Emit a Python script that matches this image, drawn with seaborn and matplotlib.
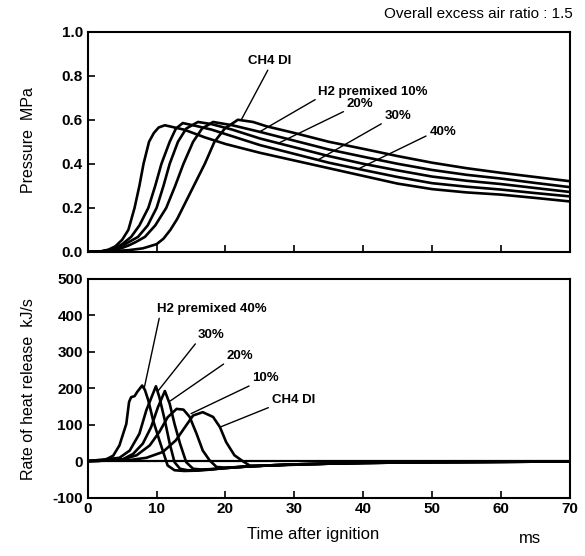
import numpy as np
import pandas as pd
import matplotlib
matplotlib.use('Agg')
import matplotlib.pyplot as plt
import seaborn as sns

# case names (same order as the labels on the chart)
cases = ['CH4 DI', 'H2 premixed 10%', '20%', '30%', '40%']

# cylinder pressure (MPa)
p_time_ch4 = [0, 3, 6, 8, 10, 11, 12, 13, 13.8, 15.4, 17.0, 18.4, 19.9, 21.8,
              24, 26, 30, 35, 40, 45, 50, 55, 60, 65, 70]
p_ch4 = [0, 0.002, 0.008, 0.016, 0.035, 0.06, 0.1, 0.15, 0.2, 0.3, 0.4, 0.5, 0.56, 0.60,
         0.59, 0.57, 0.54, 0.50, 0.468, 0.435, 0.405, 0.38, 0.359, 0.34, 0.321]

p_time_10 = [0, 2, 3, 4, 5, 6, 7, 8.3, 9.8, 11.4, 12.7, 13.9, 15.3, 16.6, 18.2,
             21, 25, 30, 35, 40, 45, 50, 55, 60, 65, 70]
p_10 = [0, 0.002, 0.005, 0.01, 0.018, 0.03, 0.045, 0.068, 0.12, 0.2, 0.3, 0.4, 0.5, 0.56, 0.59,
        0.575, 0.545, 0.505, 0.465, 0.432, 0.40, 0.372, 0.35, 0.333, 0.313, 0.294]

p_time_20 = [0, 2, 3, 4, 5, 6, 7.3, 8.7, 10.0, 11.0, 11.9, 13.1, 14.3, 16.0,
             18, 21, 25, 30, 35, 40, 45, 50, 55, 60, 65, 70]
p_20 = [0, 0.002, 0.006, 0.014, 0.027, 0.045, 0.068, 0.12, 0.2, 0.3, 0.4, 0.5, 0.56, 0.59,
        0.58, 0.555, 0.515, 0.475, 0.435, 0.40, 0.37, 0.342, 0.323, 0.308, 0.29, 0.272]

p_time_30 = [0, 2, 3, 4, 5, 6.3, 7.5, 8.8, 9.8, 10.7, 11.9, 12.8, 13.8,
             16, 18, 21, 25, 30, 35, 40, 45, 50, 55, 60, 65, 70]
p_30 = [0, 0.002, 0.008, 0.018, 0.035, 0.068, 0.12, 0.2, 0.3, 0.4, 0.5, 0.56, 0.585,
        0.57, 0.555, 0.525, 0.485, 0.445, 0.405, 0.372, 0.34, 0.312, 0.296, 0.283, 0.267, 0.252]

p_time_40 = [0, 2, 3, 4, 5, 5.9, 6.8, 7.5, 8.1, 8.9, 9.6, 10.3, 11.2,
             14, 17, 20, 25, 30, 35, 40, 45, 50, 55, 60, 65, 70]
p_40 = [0, 0.003, 0.01, 0.025, 0.055, 0.1, 0.2, 0.3, 0.4, 0.5, 0.54, 0.565, 0.575,
        0.555, 0.52, 0.49, 0.45, 0.415, 0.38, 0.345, 0.31, 0.285, 0.27, 0.26, 0.245, 0.229]

# rate of heat release (kJ/s)
q_time_ch4 = [0, 6.1, 8.5, 10.9, 12.8, 14.3, 15.3, 16.7, 18.2, 19.2, 20.1, 21.3, 22.5,
              23.5, 25, 27, 30, 35, 40, 50, 60, 70]
q_ch4 = [0, 3, 9, 25, 57, 98, 125, 134, 121, 93, 52, 16, 0,
         -12, -13, -12, -10, -7, -5, -3, -2, -1]

q_time_10 = [0, 5.1, 7.1, 9.0, 10.4, 11.6, 12.9, 13.9, 14.8, 15.8, 16.7, 17.7, 18.7,
             20, 22, 24, 26, 30, 35, 40, 50, 60, 70]
q_10 = [0, 5, 16, 43, 80, 120, 143, 141, 121, 75, 29, 2, -16,
        -18, -16, -14, -12, -9, -7, -5, -3, -2, -1]

q_time_20 = [0, 5.1, 6.6, 8.0, 9.2, 10.2, 11.2, 11.9, 12.6, 13.4, 14.3, 15.3, 16.5,
             18, 20, 23, 26, 30, 35, 40, 50, 60, 70]
q_20 = [0, 5, 20, 48, 93, 148, 192, 157, 102, 48, -3, -21, -23,
        -22, -19, -15, -12, -9, -7, -5, -3, -2, -1]

q_time_30 = [0, 4.6, 6.1, 7.5, 8.5, 9.9, 10.4, 11.2, 11.9, 12.6, 13.4, 14.5,
             16, 18, 20, 23, 26, 30, 35, 40, 50, 60, 70]
q_30 = [0, 9, 29, 75, 139, 205, 175, 111, 48, -3, -21, -25,
        -25, -22, -19, -15, -12, -9, -7, -5, -3, -2, -1]

q_time_40 = [0, 1.5, 2.5, 3.7, 4.6, 5.6, 6.0, 6.3, 6.8, 7.2, 7.9, 8.3, 8.8, 9.5, 10.4, 11.2, 11.6,
             12.6, 14, 16, 18, 20, 23, 26, 30, 35, 40, 50, 60, 70]
q_40 = [0, 0, 3, 15, 43, 102, 162, 175, 178, 190, 207, 195, 166, 111, 57, 11, -12,
        -25, -27, -26, -23, -19, -15, -12, -9, -7, -5, -3, -2, -1]

# building long tables for seaborn
press_df = pd.concat([
    pd.DataFrame({'t': tt, 'val': vv, 'case': name})
    for name, tt, vv in zip(cases,
                            [p_time_ch4, p_time_10, p_time_20, p_time_30, p_time_40],
                            [p_ch4, p_10, p_20, p_30, p_40])
], ignore_index=True)

heat_df = pd.concat([
    pd.DataFrame({'t': tt, 'val': vv, 'case': name})
    for name, tt, vv in zip(cases,
                            [q_time_ch4, q_time_10, q_time_20, q_time_30, q_time_40],
                            [q_ch4, q_10, q_20, q_30, q_40])
], ignore_index=True)

sns.set_style('ticks')
plt.rcParams['font.family'] = ['Liberation Sans', 'DejaVu Sans']
plt.rcParams['text.color'] = 'black'
plt.rcParams['axes.labelcolor'] = 'black'
plt.rcParams['xtick.color'] = 'black'
plt.rcParams['ytick.color'] = 'black'

fig = plt.figure(figsize=(5.85, 5.56), dpi=100)
ax1 = fig.add_axes([0.150, 0.547, 0.824, 0.396])
ax2 = fig.add_axes([0.150, 0.105, 0.824, 0.394])

black = ['black'] * len(cases)

sns.lineplot(data=press_df, x='t', y='val', hue='case', palette=black,
             estimator=None, sort=False, legend=False, lw=1.9, ax=ax1)
sns.lineplot(data=heat_df, x='t', y='val', hue='case', palette=black,
             estimator=None, sort=False, legend=False, lw=1.9, ax=ax2)
ax2.axhline(0, color='black', lw=1.6, zorder=1)

# axes styling
for ax in (ax1, ax2):
    ax.set_xlim(0, 70)
    ax.set_xticks(np.arange(0, 71, 10))
    ax.tick_params(direction='in', length=5, width=1.2, labelsize=11, colors='black')
    for s in ax.spines.values():
        s.set_linewidth(1.5)
        s.set_color('black')
    ax.set_xlabel('')
    ax.set_ylabel('')

ax1.set_ylim(0, 1.0)
ax1.set_yticks(np.arange(0, 1.01, 0.2))
ax1.set_yticklabels([f'{v:.1f}' for v in np.arange(0, 1.01, 0.2)], fontweight='bold')
ax1.tick_params(labelbottom=False)

ax2.set_ylim(-100, 500)
ax2.set_yticks(np.arange(-100, 501, 100))
ax2.set_yticklabels([str(v) for v in range(-100, 501, 100)], fontweight='bold')
ax2.set_xticklabels([str(v) for v in range(0, 71, 10)], fontweight='bold')

# leader-line labels
line_kw = dict(arrowstyle='-', lw=1.0, color='black', shrinkA=0, shrinkB=0)
ann_kw = dict(fontsize=9.5, fontweight='bold', textcoords='data', color='black')

ax1.annotate('CH4 DI', xy=(22.3, 0.60), xytext=(26.4, 0.84), ha='center', va='bottom',
             arrowprops=dict(relpos=(0.5, 0), **line_kw), **ann_kw)
ax1.annotate('H2 premixed 10%', xy=(25.0, 0.546), xytext=(33.5, 0.70), ha='left', va='bottom',
             arrowprops=dict(relpos=(0, 0), **line_kw), **ann_kw)
ax1.annotate('20%', xy=(27.6, 0.492), xytext=(37.6, 0.644), ha='left', va='bottom',
             arrowprops=dict(relpos=(0, 0), **line_kw), **ann_kw)
ax1.annotate('30%', xy=(33.4, 0.417), xytext=(43.1, 0.59), ha='left', va='bottom',
             arrowprops=dict(relpos=(0, 0), **line_kw), **ann_kw)
ax1.annotate('40%', xy=(39.5, 0.38), xytext=(49.6, 0.517), ha='left', va='bottom',
             arrowprops=dict(relpos=(0, 0.3), **line_kw), **ann_kw)

ax2.annotate('H2 premixed 40%', xy=(8.2, 200), xytext=(10.0, 400), ha='left', va='bottom',
             arrowprops=dict(relpos=(0.03, 0), **line_kw), **ann_kw)
ax2.annotate('30%', xy=(10.2, 192), xytext=(16.0, 330), ha='left', va='bottom',
             arrowprops=dict(relpos=(0, 0), **line_kw), **ann_kw)
ax2.annotate('20%', xy=(12.0, 165), xytext=(20.2, 272), ha='left', va='bottom',
             arrowprops=dict(relpos=(0, 0), **line_kw), **ann_kw)
ax2.annotate('10%', xy=(15.0, 130), xytext=(23.9, 210), ha='left', va='bottom',
             arrowprops=dict(relpos=(0, 0), **line_kw), **ann_kw)
ax2.annotate('CH4 DI', xy=(19.2, 93), xytext=(26.7, 150), ha='left', va='bottom',
             arrowprops=dict(relpos=(0, 0), **line_kw), **ann_kw)

# figure texts
fig.text(0.979, 0.975, 'Overall excess air ratio : 1.5', ha='right', va='center', fontsize=11)
fig.text(0.048, 0.748, 'Pressure  MPa', rotation=90, ha='center', va='center', fontsize=11.5)
fig.text(0.048, 0.300, 'Rate of heat release  kJ/s', rotation=90, ha='center', va='center',
         fontsize=11.5)
fig.text(0.535, 0.038, 'Time after ignition', ha='center', va='center', fontsize=12)
fig.text(0.906, 0.032, 'ms', ha='center', va='center', fontsize=12)

plt.savefig('out.png', dpi=100)
